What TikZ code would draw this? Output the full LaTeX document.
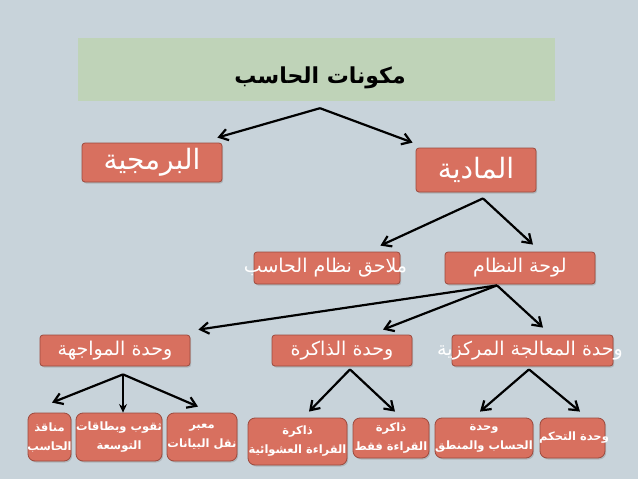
\documentclass[tikz,border=0pt]{standalone}
\usepackage{fontspec}
\usepackage{xcolor}
\usepackage{tikz}
\usetikzlibrary{arrows.meta, positioning, calc, shadows}
\newfontfamily\arabicfont[Script=Arabic]{DejaVu Sans}
\TeXXeTstate=1
\newcommand{\ar}[1]{{\arabicfont\beginR #1\endR}}
\definecolor{fond}{HTML}{C8D3DA}
\definecolor{bandeau}{HTML}{BFD3B8}
\definecolor{saumon}{HTML}{D8705F}
\definecolor{bordure}{HTML}{9C4A3E}
\tikzset{
  boite/.style={rectangle, rounded corners=3pt, draw=bordure, fill=saumon,
    line width=0.8pt, inner sep=0pt,
    drop shadow={shadow xshift=1.2pt, shadow yshift=-1.5pt, opacity=0.35}},
  petite/.style={boite, rounded corners=7pt},
  grand/.style={text=white, font=\fontsize{28}{32}\selectfont},
  moyen/.style={text=white, font=\fontsize{19}{22}\selectfont},
  menu/.style={text=white, align=center, font=\fontsize{11.5}{19}\selectfont\bfseries},
  fleche/.style={-{Straight Barb[length=3mm, width=4mm]}, line width=2.2pt, color=black},
  flechepleine/.style={-{Stealth[length=3mm, width=2.8mm]}, line width=2.2pt, color=black}
}

\begin{document}
\begin{tikzpicture}[x=1pt, y=-1pt]
    \fill[fond] (0,0) rectangle (638,479);
    \useasboundingbox (0,0) rectangle (638,479);

    % titre
    \node[fill=bandeau, minimum width=477pt, minimum height=63pt, inner sep=0pt] (titre) at (316.5,69.5) {};
    \node[font=\fontsize{22}{26}\selectfont\bfseries] (titretxt) at (320,78) {\ar{مكونات الحاسب}};

    % niveau 1
    \node[boite, minimum width=140pt, minimum height=39pt] (soft) at (152,162.5) {};
    \node[grand] at (soft) {\ar{البرمجية}};
    \node[boite, minimum width=120pt, minimum height=44pt] (mat) at (476,170) {};
    \node[grand] at (mat) {\ar{المادية}};

    % niveau 2
    \node[boite, minimum width=146pt, minimum height=32pt] (mulhaq) at (327,268) {};
    \node[moyen] at (325.5,268) {\ar{ملاحق نظام الحاسب}};
    \node[boite, minimum width=150pt, minimum height=32pt] (lawha) at (520,268) {};
    \node[moyen] at (lawha) {\ar{لوحة النظام}};

    % niveau 3
    \node[boite, minimum width=150pt, minimum height=31pt] (muwajaha) at (115,350.5) {};
    \node[moyen] at (muwajaha) {\ar{وحدة المواجهة}};
    \node[boite, minimum width=140pt, minimum height=31pt] (dhakira) at (342,350.5) {};
    \node[moyen] at (dhakira) {\ar{وحدة الذاكرة}};
    \node[boite, minimum width=161pt, minimum height=31pt] (muaalaja) at (532.5,350.5) {};
    \node[moyen] at (530,350.5) {\ar{وحدة المعالجة المركزية}};

    % niveau 4
    \node[petite, minimum width=43pt, minimum height=48pt] (manafidh) at (49.5,437) {};
    \node[menu] at (manafidh) {\ar{مناقذ}\\\ar{الحاسب}};
    \node[petite, minimum width=86pt, minimum height=48pt] (thuqub) at (119,437) {};
    \node[menu] at (thuqub) {\ar{ثقوب وبطاقات}\\\ar{التوسعة}};
    \node[petite, minimum width=70pt, minimum height=48pt] (maabar) at (202,437) {};
    \node[menu] at (maabar) {\ar{معبر}\\\ar{نقل البيانات}};
    \node[petite, minimum width=99pt, minimum height=47pt] (ram) at (297.5,441.5) {};
    \node[menu] at (ram) {\ar{ذاكرة}\\\ar{القراءة العشوائية}};
    \node[petite, minimum width=76pt, minimum height=40pt] (rom) at (391,438) {};
    \node[menu] at (rom) {\ar{ذاكرة}\\\ar{القراءة فقط}};
    \node[petite, minimum width=98pt, minimum height=40pt] (alu) at (484,438) {};
    \node[menu] at (alu) {\ar{وحدة}\\\ar{الحساب والمنطق}};
    \node[petite, minimum width=65pt, minimum height=40pt] (tahakkum) at (572.5,438) {};
    \node[menu] at (574,438) {\ar{وحدة التحكم}};

    % points de depart des fleches
    \coordinate (s1) at ($(titre.south)+(3.5,7)$);
    \coordinate (s2) at ($(mat.south)+(7,6)$);
    \coordinate (s3) at ($(lawha.south)+(-23,1)$);
    \coordinate (s4) at ($(muwajaha.south)+(8,8)$);
    \coordinate (s5) at ($(dhakira.south)+(8,3)$);
    \coordinate (s6) at ($(muaalaja.south)+(-3.5,3)$);

    \draw[fleche] (s1) -- ($(soft.north east)+(-5,-5)$);
    \draw[fleche] (s1) -- ($(mat.north west)+(-3,-5)$);
    \draw[fleche] (s2) -- ($(mulhaq.north east)+(-20,-6)$);
    \draw[fleche] (s2) -- ($(lawha.north)+(13,-7)$);
    \draw[fleche] (s3) -- ($(muwajaha.north east)+(8,-5)$);
    \draw[fleche] (s3) -- ($(dhakira.north)+(41,-5)$);
    \draw[fleche] (s3) -- ($(muaalaja.north)+(10.5,-7)$);
    \draw[fleche] (s4) -- ($(manafidh.north)+(2.5,-10)$);
    \draw[flechepleine] (s4) -- ($(thuqub.north)+(4,0)$);
    \draw[fleche] (s4) -- ($(maabar.north)+(-4,-6)$);
    \draw[fleche] (s5) -- ($(ram.north)+(11.5,-6)$);
    \draw[fleche] (s5) -- ($(rom.north)+(4,-6)$);
    \draw[fleche] (s6) -- ($(alu.north)+(-4,-6)$);
    \draw[fleche] (s6) -- ($(tahakkum.north)+(7.5,-6)$);
\end{tikzpicture}
\end{document}
